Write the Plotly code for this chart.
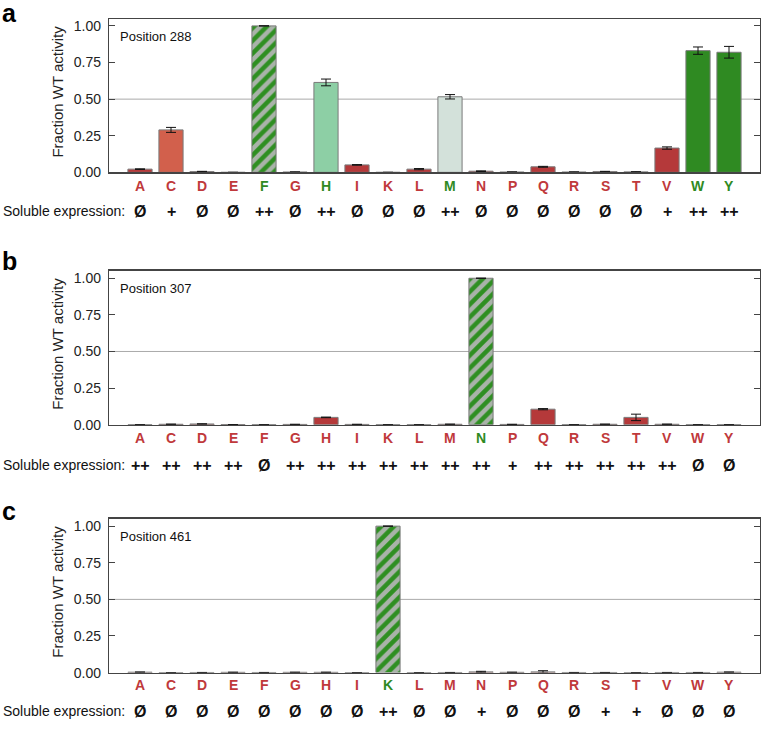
import plotly.graph_objects as go

W, H = 762, 730

residues = ["A", "C", "D", "E", "F", "G", "H", "I", "K", "L",
            "M", "N", "P", "Q", "R", "S", "T", "V", "W", "Y"]

# Panel a: position 288
pos288_vals = [0.022, 0.29, 0.005, 0.0, 1.0, 0.002, 0.614, 0.051, 0.0, 0.022,
               0.516, 0.008, 0.002, 0.038, 0.002, 0.005, 0.003, 0.166, 0.831, 0.82]
pos288_err = [0.002, 0.017, 0.002, 0.0, 0.0, 0.001, 0.023, 0.002, 0.0, 0.004,
              0.015, 0.002, 0.001, 0.003, 0.001, 0.002, 0.001, 0.008, 0.025, 0.04]
pos288_expr = ["Ø", "+", "Ø", "Ø", "++", "Ø", "++", "Ø", "Ø", "Ø",
               "++", "Ø", "Ø", "Ø", "Ø", "Ø", "Ø", "+", "++", "++"]

# Panel b: position 307
pos307_vals = [0.0, 0.003, 0.005, 0.001, 0.0, 0.002, 0.05, 0.002, 0.0, 0.0,
               0.003, 1.0, 0.002, 0.106, 0.0, 0.003, 0.05, 0.003, 0.0, 0.0]
pos307_err = [0.0, 0.001, 0.001, 0.0, 0.0, 0.001, 0.002, 0.001, 0.0, 0.0,
              0.001, 0.0, 0.001, 0.004, 0.0, 0.001, 0.022, 0.001, 0.0, 0.0]
pos307_expr = ["++", "++", "++", "++", "Ø", "++", "++", "++", "++", "++",
               "++", "++", "+", "++", "++", "++", "++", "++", "Ø", "Ø"]

# Panel c: position 461
pos461_vals = [0.003, 0.0, 0.001, 0.002, 0.001, 0.002, 0.002, 0.0, 1.0, 0.0,
               0.001, 0.005, 0.002, 0.005, 0.001, 0.001, 0.0, 0.001, 0.001, 0.003]
pos461_err = [0.001, 0.0, 0.0, 0.001, 0.0, 0.001, 0.001, 0.0, 0.0, 0.0,
              0.0, 0.004, 0.001, 0.008, 0.0, 0.0, 0.0, 0.0, 0.0, 0.001]
pos461_expr = ["Ø", "Ø", "Ø", "Ø", "Ø", "Ø", "Ø", "Ø", "++", "Ø",
               "Ø", "+", "Ø", "Ø", "Ø", "+", "+", "Ø", "Ø", "Ø"]

# bar fill style per residue: r=red, c=coral, lg=light green, p=pale, g=green, h=hatched WT
pos288_style = ["r", "c", "r", "r", "h", "r", "lg", "r", "r", "r",
                "p", "r", "r", "r", "r", "r", "r", "r", "g", "g"]
pos307_style = ["r"] * 11 + ["h"] + ["r"] * 8
pos461_style = ["r"] * 8 + ["h"] + ["r"] * 11

# label colour: green = active
pos288_active = ["F", "H", "M", "W", "Y"]
pos307_active = ["N"]
pos461_active = ["K"]

panels = [
    ("a", "Position 288", pos288_vals, pos288_err, pos288_expr, pos288_style, pos288_active),
    ("b", "Position 307", pos307_vals, pos307_err, pos307_expr, pos307_style, pos307_active),
    ("c", "Position 461", pos461_vals, pos461_err, pos461_expr, pos461_style, pos461_active),
]

FILL = {"r": "#B5393A", "c": "#D2604C", "lg": "#8DCFA5", "p": "#D3E1DA",
        "g": "#2F8A22", "h": "#A9B3A9"}
HATCH_FG = "#2F8F22"
HATCH_BG = "#A9B3A9"
RED_TXT = "#C0393B"
GREEN_TXT = "#2F8A22"
FONT = "Liberation Sans, Arial, Helvetica, sans-serif"

# pixel layout of each panel: (plot top, plot bottom(y=0), label y, expr y, letter y)
px = [(18, 173.5, 187, 213, 12),
      (273, 429, 442, 470, 263),
      (524, 680, 693, 719, 516)]
x_left, x_right = 109, 760


def py(p):
    return 1 - p / H


fig = go.Figure()
annotations = []
shapes = []

for i, (letter, title, vals, errs, expr, style, active) in enumerate(panels):
    n = i + 1
    xa = "x" if n == 1 else f"x{n}"
    ya = "y" if n == 1 else f"y{n}"
    top, bot, ly, ey, lety = px[i]

    plain = [k for k, s in enumerate(style) if s != "h"]
    hatched = [k for k, s in enumerate(style) if s == "h"]

    fig.add_trace(go.Bar(
        x=[residues[k] for k in plain], y=[vals[k] for k in plain],
        xaxis=xa, yaxis=ya, width=0.78,
        marker=dict(color=[FILL[style[k]] for k in plain],
                    line=dict(color="#7A7A7A", width=1)),
        error_y=dict(type="data", array=[errs[k] for k in plain], visible=True,
                     color="#111111", thickness=1, width=5),
        showlegend=False, hoverinfo="skip",
    ))
    fig.add_trace(go.Bar(
        x=[residues[k] for k in hatched], y=[vals[k] for k in hatched],
        xaxis=xa, yaxis=ya, width=0.78,
        marker=dict(color=HATCH_BG,
                    line=dict(color="#7A7A7A", width=1),
                    pattern=dict(shape="/", fgcolor=HATCH_FG, bgcolor=HATCH_BG,
                                 fgopacity=1, size=9, solidity=0.5,
                                 fillmode="replace")),
        error_y=dict(type="data", array=[errs[k] for k in hatched], visible=True,
                     color="#111111", thickness=1, width=5),
        showlegend=False, hoverinfo="skip",
    ))

    xkey = "xaxis" if n == 1 else f"xaxis{n}"
    ykey = "yaxis" if n == 1 else f"yaxis{n}"
    fig.update_layout({
        xkey: dict(domain=[x_left / W, x_right / W], anchor=ya,
                   type="category", categoryorder="array", categoryarray=residues,
                   range=[-1, 20], showticklabels=False, ticks="",
                   showline=True, linecolor="#444444", linewidth=1.2, mirror=True,
                   showgrid=False, zeroline=False, fixedrange=True),
        ykey: dict(domain=[py(bot), py(top)], anchor=xa,
                   range=[0, (bot - top) / 148.3],
                   tickvals=[0, 0.25, 0.5, 0.75, 1.0],
                   ticktext=["0.00", "0.25", "0.50", "0.75", "1.00"],
                   ticks="inside", ticklen=6, tickcolor="#444444", tickwidth=1,
                   showline=True, linecolor="#444444", linewidth=1.2, mirror="ticks",
                   showgrid=False, zeroline=False, fixedrange=True,
                   tickfont=dict(family=FONT, size=14, color="#222222"),
                   ticklabelstandoff=4),
    })

    # gridline at 0.5
    shapes.append(dict(type="line", xref=f"{xa} domain", yref=ya, x0=0, x1=1,
                       y0=0.5, y1=0.5, line=dict(color="#AAAAAA", width=1),
                       layer="below"))

    # residue labels and expression symbols
    for r, e in zip(residues, expr):
        annotations.append(dict(
            x=r, xref=xa, y=py(ly), yref="paper", text=f"<b>{r}</b>",
            showarrow=False, xanchor="center", yanchor="middle",
            font=dict(family=FONT, size=14,
                      color=GREEN_TXT if r in active else RED_TXT)))
        annotations.append(dict(
            x=r, xref=xa, y=py(ey), yref="paper", text=f"<b>{e}</b>",
            showarrow=False, xanchor="center", yanchor="middle",
            font=dict(family=FONT, size=16, color="#111111")))

    annotations.append(dict(
        x=1 / W, xref="paper", y=py(ey), yref="paper", text="Soluble expression:",
        showarrow=False, xanchor="left", yanchor="middle",
        font=dict(family=FONT, size=14, color="#111111")))

    annotations.append(dict(
        x=9 / 651, xref=f"{xa} domain", y=py(top + 18), yref="paper", text=title,
        showarrow=False, xanchor="left", yanchor="middle",
        font=dict(family=FONT, size=13, color="#111111")))

    annotations.append(dict(
        x=58 / W, xref="paper", y=py((top + bot) / 2 - 4), yref="paper",
        text="Fraction WT activity", textangle=-90,
        showarrow=False, xanchor="center", yanchor="middle",
        font=dict(family=FONT, size=15, color="#222222")))

    annotations.append(dict(
        x=0, xref="paper", y=py(lety), yref="paper", text=f"<b>{letter}</b>",
        showarrow=False, xanchor="left", yanchor="middle",
        font=dict(family=FONT, size=25, color="#000000")))

fig.update_layout(
    width=W, height=H,
    margin=dict(l=0, r=0, t=0, b=0),
    paper_bgcolor="white", plot_bgcolor="white",
    annotations=annotations, shapes=shapes,
    barmode="overlay",
)

fig.write_html("out.html",
               config={"displayModeBar": False, "staticPlot": True},
               post_script="document.body.style.margin='0px';document.body.style.overflow='hidden';")
